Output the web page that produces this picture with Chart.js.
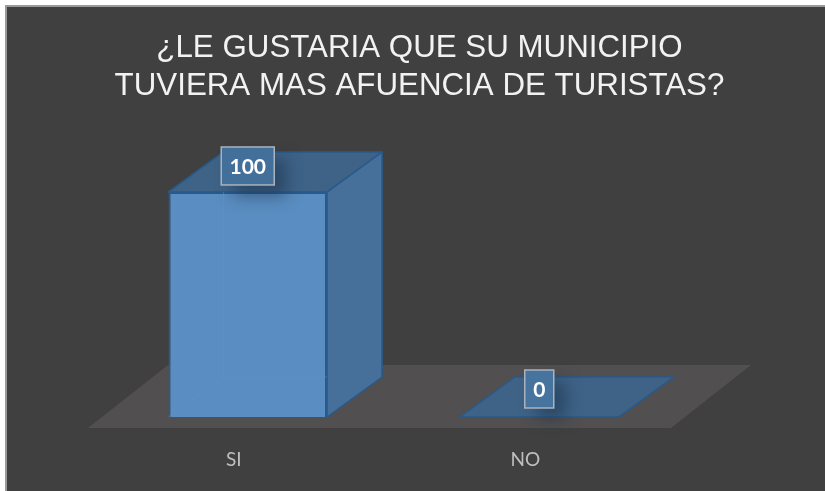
<!DOCTYPE html>
<html><head><meta charset="utf-8">
<style>html,body{margin:0;padding:0;background:#ffffff;overflow:hidden}
#w{position:absolute;left:0;top:0;width:825px;height:491px}</style>
<script src="https://cdn.jsdelivr.net/npm/chart.js@4"></script></head>
<body><div id="w"><canvas id="c" width="825" height="491"></canvas></div>
<script>
const categories = ["SI", "NO"];
const seriesValues = [100, 0];
const titleLines = ["¿LE GUSTARIA QUE SU MUNICIPIO", "TUVIERA MAS AFUENCIA DE TURISTAS?"];
const DX = 55, DY = 40;
function poly(ctx, pts, fill, stroke, lw){
  ctx.beginPath(); pts.forEach((p,i)=> i?ctx.lineTo(p[0],p[1]):ctx.moveTo(p[0],p[1])); ctx.closePath();
  if(fill){ctx.fillStyle=fill;ctx.fill();}
  if(stroke){ctx.strokeStyle=stroke;ctx.lineWidth=lw||1.5;ctx.lineJoin='round';ctx.stroke();}
}
const box3d = {
  id:'box3d',
  beforeDraw(chart){
    const ctx = chart.ctx;
    ctx.save();
    ctx.fillStyle='#ffffff'; ctx.fillRect(0,0,825,491);
    ctx.fillStyle='#9a9a9a'; ctx.fillRect(5,5,820,486);
    ctx.fillStyle='#404040'; ctx.fillRect(7,7,818,484);
    ctx.restore();
  },
  beforeDatasetsDraw(chart){
    const ctx = chart.ctx, y0 = chart.scales.y.getPixelForValue(0), a = chart.chartArea;
    ctx.save();
    poly(ctx, [[a.left-14,y0+11],[a.right-14,y0+11],[a.right+66,y0-52],[a.left+66,y0-52]], '#514f50');
    const edge = '#285a8c';
    chart.getDatasetMeta(0).data.forEach(b=>{
      const l=b.x-b.width/2, r=b.x+b.width/2, t=b.y, bt=b.base;
      poly(ctx, [[r,bt],[r+DX,bt-DY],[r+DX,t-DY],[r,t]], '#467099', edge);
      poly(ctx, [[l,t],[r,t],[r+DX,t-DY],[l+DX,t-DY]], '#3e6387', edge);
    });
    ctx.restore();
  },
  afterDatasetsDraw(chart){
    const ctx = chart.ctx;
    ctx.save();
    chart.getDatasetMeta(0).data.forEach((b,i)=>{
      const l=b.x-b.width/2, r=b.x+b.width/2, t=b.y, bt=b.base;
      if(seriesValues[i]>0){
        ctx.strokeStyle='rgba(96,150,205,0.45)'; ctx.lineWidth=1;
        ctx.beginPath();
        ctx.moveTo(l+DX,t); ctx.lineTo(l+DX,bt-DY); ctx.lineTo(l,bt);
        ctx.moveTo(l+DX,bt-DY); ctx.lineTo(r,bt-DY);
        ctx.stroke();
      }
      const txt = String(seriesValues[i]);
      const w = txt.length>1 ? 53 : 29, h = 38;
      const cx = b.x, cy = b.y - (seriesValues[i]===0 ? 28 : 26);
      ctx.save();
      ctx.shadowColor='rgba(25,45,70,0.5)'; ctx.shadowBlur=16; ctx.shadowOffsetX=12; ctx.shadowOffsetY=11;
      ctx.fillStyle='#4a78a5'; ctx.fillRect(cx-w/2,cy-h/2,w,h);
      ctx.restore();
      ctx.fillStyle = seriesValues[i]===0 ? '#47749f' : '#43709b'; ctx.fillRect(cx-w/2,cy-h/2,w,h);
      ctx.strokeStyle = '#aab3bc'; ctx.lineWidth = 1.5; ctx.strokeRect(cx-w/2,cy-h/2,w,h);
      ctx.font = '700 21px Lato, Carlito, sans-serif';
      ctx.fillStyle = '#ffffff'; ctx.textAlign='center'; ctx.textBaseline='middle';
      ctx.fillText(txt,cx,cy+1);
    });
    ctx.restore();
  }
};
new Chart(document.getElementById('c'),{
  type:'bar',
  data:{labels:categories,datasets:[{data:seriesValues,backgroundColor:'#5a8dc1',borderColor:'#285a8c',borderWidth:2,categoryPercentage:0.544,barPercentage:1}]},
  options:{
    responsive:false,animation:false,
    layout:{padding:{left:14,right:0,top:0,bottom:0}},
    plugins:{legend:{display:false},tooltip:{enabled:false},
      title:{display:true,text:titleLines,color:'#f2f2f2',font:{family:'"Liberation Sans", Arial, sans-serif',size:31.3,weight:'400',lineHeight:1.22},padding:{top:29,bottom:86.6}}},
    scales:{
      x:{afterFit(s){s.height=74;},grid:{display:false,drawTicks:false},border:{display:false},ticks:{color:'#bfbfbf',padding:31,labelOffset:-14,font:{family:'Lato, Carlito, sans-serif',size:19}}},
      y:{position:'left',afterFit(s){s.width=88;},grid:{display:false,drawTicks:false},border:{display:false},ticks:{display:false},min:0,max:100},
      yr:{position:'right',afterFit(s){s.width=140;},grid:{display:false,drawTicks:false},border:{display:false},ticks:{display:false},min:0,max:100}
    }
  },
  plugins:[box3d]
});
</script></body></html>
